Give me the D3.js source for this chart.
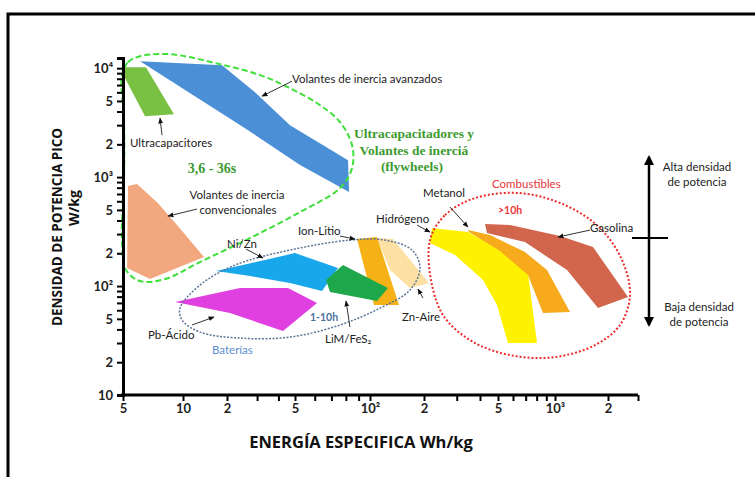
<!DOCTYPE html>
<html><head><meta charset="utf-8">
<script src="https://cdn.jsdelivr.net/npm/d3@7"></script>
<style>body{margin:0;background:#fff}svg{display:block}</style>
</head><body><svg id="c" width="755" height="477"></svg>
<script>
// ---------- DATA (energía específica Wh/kg, densidad de potencia W/kg) ----------
const xTickValues = [5,10,20,30,40,50,60,70,80,90,100,200,300,400,500,600,700,800,900,1000,2000,2800];
const xTickLabels = {5:"5",10:"10",20:"2",50:"5",100:"10²",200:"2",500:"5",1000:"10³",2000:"2"};
const yTickValues = [10,20,30,40,50,60,70,80,90,100,200,300,400,500,600,700,800,900,1000,2000,3000,4000,5000,6000,7000,8000,9000,10000];
const yTickLabels = {10:"10",20:"2",50:"5",100:"10²",200:"2",500:"5",1000:"10³",2000:"2",5000:"5",10000:"10⁴"};

const ultracapacitores = [[5.06,10210],[6.52,10210],[9.01,3784],[6.45,3628],[5.06,8447]];
const volantesAvanzados = [[6.09,11590],[18.49,10650],[29.17,6020],[46.74,3000],[81.6,1432],[82.4,729],[52.4,1289],[25.49,2815]];
const volantesConvencionales = [[5.30,827],[5.88,863],[7.49,577],[10,313],[13.92,184.5],[6.83,115.9],[5.24,146.3]];
const niZn = [[16.82,137.3],[50,200.8],[74.4,146.3],[64.2,90],[46.74,106.5],[27.27,123.5]];
const pbAcido = [[9.12,71.3],[23.83,95.9],[45.5,95.9],[61.3,69.8],[42.54,38.7],[20.83,56.5]];
const liMFeS2 = [[66.6,113.5],[77.9,155.8],[126,95.9],[109.4,72.9],[69.1,88.1]];
const ionLitio = [[88.7,270],[109.4,281.5],[145.1,66.9],[105.3,66.9]];
const znAire = [[109.4,275.6],[134.3,269.8],[212.8,106.5],[167.1,95.9],[129.3,140.2]];
const hidrogeno = [[220.8,340.5],[344.8,312.9],[512.3,213.9],[720.1,131.6],[803.3,30],[564.7,30],[493.9,66.9],[415.3,113.5],[293.6,192.5],[215.4,248]];
const metanol = [[344.8,326.4],[452.9,293.7],[694.3,205.1],[907.4,140.2],[1217,57.7],[864.3,56.5],[720.1,126.2],[512.3,209.5],[349.2,312.9]];
const gasolina = [[425.8,370.6],[578.6,362.8],[1068,287.5],[1644,228],[2503,79.3],[1755,62.8],[1170,140.2],[694.3,253.3],[436.4,306.4]];

// envelopes (grupos)
const grupoVolantes = [[4.94,8627],[5.30,11350],[6.09,12890],[8.61,13440],[17.91,10880],[31.21,8627],[46.74,6553],[63.0,4577],[75.8,3196],[84.7,1967],[84.7,1209],[75.8,792.7],[52.4,477.5],[27.27,275.6],[13.07,166.1],[8.12,115.9],[6.09,111.1],[5.18,140.2],[4.94,264.2],[5.06,938.6],[5.06,3334]];
const grupoBaterias = [[9.66,62.8],[13.07,102.1],[22.28,155.8],[46.74,213.9],[83.1,264.2],[121.2,264.2],[171.5,213.9],[190,146.3],[167.1,91.9],[113.7,62.8],[75.8,43.9],[46.74,34],[23.83,33.3],[13.07,37.8],[9.89,48.8]];
const grupoCombustibles = [[215.4,264.2],[259.4,448.2],[376.1,641.7],[653.3,713.1],[1140,553.6],[1801,340.5],[2340,173.2],[2560,82.7],[2288,43.9],[1687,28.7],[1000,22.3],[614.8,22.8],[376.1,30],[259.4,50.9],[220.8,102.1]];

// arrows [from, to] in data units
const flechas = [
  [[48.02,7597],[32.06,5535]],
  [[7.85,2429],[7.67,3477]],
  [[12.47,508.6],[8.41,438.7]],
  [[25.83,218.6],[32.49,180.7]],
  [[75.8,287.5],[87.1,269.8]],
  [[182.8,362.8],[215.4,312.9]],
  [[276,530.7],[344.8,347.8]],
  [[1581,326.4],[1040,281.5]],
  [[197.4,77.6],[185.2,93.9]],
  [[83.1,42.05],[80.1,72.9]],
  [[11.52,43.9],[16.3,51.96]]
];

// ---------- CHART ----------
const svg = d3.select("#c");
// hand-drawn log axis: decade positions as in the original figure
const x = d3.scaleLog().domain([5,10,20,50,100,200,500,1000,2000,2800])
  .range([123,183,227,295,370,424,498,555,608,638]);
const y = d3.scaleLog().domain([10, 12400]).range([395, 58]);

// frame
svg.append("rect").attr("x",8).attr("y",14).attr("width",760).attr("height",480)
  .attr("fill","none").attr("stroke","#000").attr("stroke-width",3);

const defs = svg.append("defs");
defs.append("marker").attr("id","ah").attr("viewBox","0 0 10 10").attr("refX",9).attr("refY",5)
  .attr("markerWidth",6).attr("markerHeight",6).attr("orient","auto")
  .append("path").attr("d","M0,1 L10,5 L0,9 Z").attr("fill","#111");
defs.append("marker").attr("id","big").attr("viewBox","0 0 10 10").attr("refX",8).attr("refY",5)
  .attr("markerWidth",4).attr("markerHeight",4).attr("orient","auto-start-reverse")
  .append("path").attr("d","M0,0 L10,5 L0,10 Z").attr("fill","#000");

const poly = d3.line().x(d=>x(d[0])).y(d=>y(d[1])).curve(d3.curveLinearClosed);
const smooth = d3.line().x(d=>x(d[0])).y(d=>y(d[1])).curve(d3.curveCatmullRomClosed.alpha(0.5));

const regiones = [
  [volantesConvencionales,"#f2a77e"],
  [ultracapacitores,"#79c143"],
  [volantesAvanzados,"#4b8fd7"],
  [pbAcido,"#e040e0"],
  [niZn,"#19a7ec"],
  [znAire,"#fde1a4"],
  [ionLitio,"#f6b117"],
  [liMFeS2,"#1fa84b"],
  [hidrogeno,"#fff200"],
  [metanol,"#f7ab1c"],
  [gasolina,"#d1664c"]
];
svg.append("g").selectAll("path").data(regiones).join("path")
  .attr("d",d=>poly(d[0])).attr("fill",d=>d[1]).attr("stroke","none");

// envelopes
svg.append("path").attr("d",smooth(grupoVolantes)).attr("fill","none")
  .attr("stroke","#3fe03a").attr("stroke-width",2).attr("stroke-dasharray","6,3");
svg.append("path").attr("d",smooth(grupoBaterias)).attr("fill","none")
  .attr("stroke","#5d7696").attr("stroke-width",1.5).attr("stroke-dasharray","2,1.5");
svg.append("path").attr("d",smooth(grupoCombustibles)).attr("fill","none")
  .attr("stroke","#ee2a2a").attr("stroke-width",2).attr("stroke-dasharray","2,2");

// arrows
svg.append("g").selectAll("line").data(flechas).join("line")
  .attr("x1",d=>x(d[0][0])).attr("y1",d=>y(d[0][1]))
  .attr("x2",d=>x(d[1][0])).attr("y2",d=>y(d[1][1]))
  .attr("stroke","#333").attr("stroke-width",1).attr("marker-end","url(#ah)");

// axes
const fontTick = "Lato, 'Open Sans', sans-serif";
const yAxis = svg.append("g").attr("transform","translate(123,0)")
  .call(d3.axisLeft(y).tickValues(yTickValues).tickSizeOuter(0).tickSize(6).tickPadding(4)
    .tickFormat(d=>yTickLabels[d]||""));
const xAxis = svg.append("g").attr("transform","translate(0,395)")
  .call(d3.axisBottom(x).tickValues(xTickValues).tickSizeOuter(0).tickSize(6).tickPadding(3)
    .tickFormat(d=>xTickLabels[d]||""));
[yAxis,xAxis].forEach(a=>{
  a.select(".domain").attr("stroke","#000").attr("stroke-width",3);
  a.selectAll(".tick line").attr("stroke","#000").attr("stroke-width",2);
  a.selectAll(".tick text").attr("fill","#222").style("font-family",fontTick)
    .style("font-weight","bold").style("font-size","13px");
});
xAxis.select(".domain").attr("d",`M${x(5)-2},0H${x(2800)}`);

// axis titles
svg.append("text").attr("transform","translate(62,227) rotate(-90)").attr("text-anchor","middle")
  .style("font-family","'Open Sans', sans-serif").style("font-weight","bold").style("font-size","13.5px")
  .attr("fill","#111").text("DENSIDAD DE POTENCIA PICO");
svg.append("text").attr("transform","translate(79,208) rotate(-90)").attr("text-anchor","middle")
  .style("font-family","'Open Sans', sans-serif").style("font-weight","bold").style("font-size","14px")
  .attr("fill","#111").text("W/kg");
svg.append("text").attr("x",361).attr("y",448).attr("text-anchor","middle")
  .style("font-family","'Open Sans', sans-serif").style("font-weight","bold").style("font-size","16.5px")
  .attr("fill","#111").text("ENERGÍA ESPECIFICA Wh/kg");

// labels (layout)
const labels = [
  {t:"Volantes de inercia avanzados",x:292,y:83,a:"start"},
  {t:"Ultracapacitores",x:130,y:147,a:"start"},
  {t:"Volantes de inercia",x:237,y:199,a:"middle"},
  {t:"convencionales",x:238,y:214,a:"middle"},
  {t:"Ni/Zn",x:227,y:248,a:"start"},
  {t:"Ion-Litio",x:298,y:235,a:"start"},
  {t:"Hidrógeno",x:376,y:223,a:"start"},
  {t:"Metanol",x:423,y:197,a:"start"},
  {t:"Gasolina",x:590,y:232,a:"start"},
  {t:"Zn-Aire",x:402,y:321,a:"start"},
  {t:"LiM/FeS₂",x:325,y:343,a:"start"},
  {t:"Pb-Ácido",x:148,y:339,a:"start"},
  {t:"Alta densidad",x:697,y:171,a:"middle"},
  {t:"de potencia",x:697,y:186,a:"middle"},
  {t:"Baja densidad",x:699,y:311,a:"middle"},
  {t:"de potencia",x:699,y:326,a:"middle"}
];
svg.append("g").selectAll("text").data(labels).join("text")
  .attr("x",d=>d.x).attr("y",d=>d.y).attr("text-anchor",d=>d.a)
  .style("font-family","Lato, 'Open Sans', sans-serif").style("font-size","11.5px")
  .attr("fill","#222").text(d=>d.t);

const serif = "'Liberation Serif', 'DejaVu Serif', serif";
[["Ultracapacitadores y",414,138],["Volantes de inerciá",414,155],["(flywheels)",412,171]].forEach(d=>{
  svg.append("text").attr("x",d[1]).attr("y",d[2]).attr("text-anchor","middle")
    .style("font-family",serif).style("font-weight","bold").style("font-size","13.5px")
    .attr("fill","#3c9a30").text(d[0]);
});
svg.append("text").attr("x",212).attr("y",173).attr("text-anchor","middle")
  .style("font-family",serif).style("font-weight","bold").style("font-size","14px")
  .attr("fill","#3c9a30").text("3,6 - 36s");
svg.append("text").attr("x",492).attr("y",188).style("font-family","Lato, sans-serif")
  .style("font-size","11.5px").attr("fill","#e8383b").text("Combustibles");
svg.append("text").attr("x",498).attr("y",214).style("font-family","Lato, sans-serif")
  .style("font-size","10.5px").style("font-weight","bold").attr("fill","#e8383b").text(">10h");
svg.append("text").attr("x",310).attr("y",321).style("font-family","Lato, sans-serif")
  .style("font-size","10.5px").style("font-weight","bold").attr("fill","#4a6f9f").text("1-10h");
svg.append("text").attr("x",212).attr("y",354).style("font-family","Lato, sans-serif")
  .style("font-size","11.5px").attr("fill","#5b8fd0").text("Baterías");

// power-density scale indicator
svg.append("line").attr("x1",649).attr("x2",649).attr("y1",157).attr("y2",325)
  .attr("stroke","#000").attr("stroke-width",2.5)
  .attr("marker-start","url(#big)").attr("marker-end","url(#big)");
svg.append("line").attr("x1",632).attr("x2",668).attr("y1",238).attr("y2",238)
  .attr("stroke","#000").attr("stroke-width",2);
</script></body></html>
